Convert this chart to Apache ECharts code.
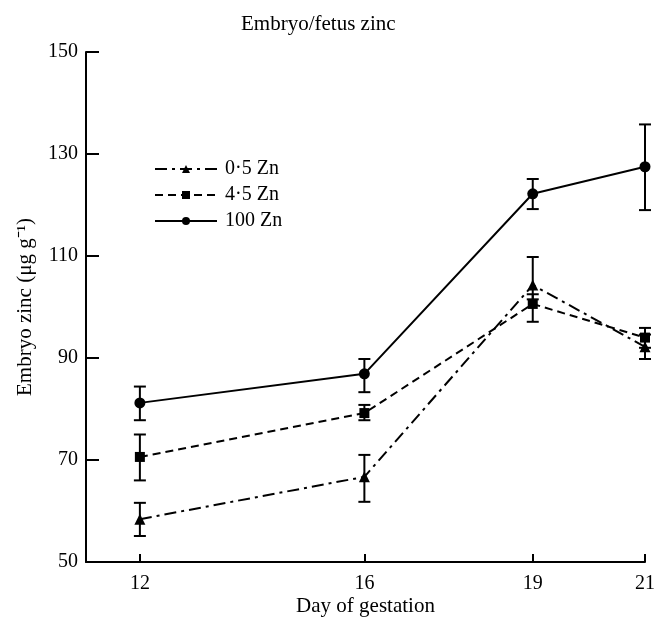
<!DOCTYPE html>
<html>
<head>
<meta charset="utf-8">
<script src="https://cdn.jsdelivr.net/npm/echarts@6/dist/echarts.min.js"></script>
<style>
  html, body { margin: 0; padding: 0; background: #fff; }
  #chart { width: 664px; height: 619px; }
</style>
</head>
<body>
<div id="chart"></div>
<script>
// Day of gestation
var days = [12, 16, 19, 21];

// 0.5 Zn diet
var zn05Mean = [58.4, 66.7, 104.3, 92.2];
var zn05Low = [55.1, 61.8, 101.5, 89.8];
var zn05High = [61.6, 71.0, 109.8, 94.6];

// 4.5 Zn diet
var zn45Mean = [70.6, 79.2, 100.6, 94.0];
var zn45Low = [66.0, 77.8, 97.1, 92.0];
var zn45High = [75.0, 80.8, 102.5, 95.9];

// 100 Zn diet
var zn100Mean = [81.2, 86.9, 122.2, 127.5];
var zn100Low = [77.8, 83.3, 119.2, 119.0];
var zn100High = [84.4, 89.8, 125.1, 135.8];

var seriesNames = ['0·5 Zn', '4·5 Zn', '100 Zn'];
var yTicks = [50, 70, 90, 110, 130, 150];

var serif = 'Liberation Serif';

function pairs(means) {
    return days.map(function (d, i) { return [d, means[i]]; });
}

function errData(low, high) {
    return days.map(function (d, i) { return [d, low[i], high[i]]; });
}

function renderErr(params, api) {
    var x = api.value(0);
    var top = api.coord([x, api.value(2)]);
    var bot = api.coord([x, api.value(1)]);
    var cap = 6;
    var style = { stroke: '#000', lineWidth: 2 };
    return {
        type: 'group',
        children: [
            { type: 'line', shape: { x1: top[0], y1: top[1], x2: bot[0], y2: bot[1] }, style: style },
            { type: 'line', shape: { x1: top[0] - cap, y1: top[1], x2: top[0] + cap, y2: top[1] }, style: style },
            { type: 'line', shape: { x1: bot[0] - cap, y1: bot[1], x2: bot[0] + cap, y2: bot[1] }, style: style }
        ]
    };
}

function lineSeries(name, means, symbol, size, dash) {
    return {
        name: name,
        type: 'line',
        data: pairs(means),
        symbol: symbol,
        symbolSize: size,
        showAllSymbol: true,
        itemStyle: { color: '#000' },
        lineStyle: { color: '#000', width: 2, type: dash },
        z: 3
    };
}

function errSeries(low, high) {
    return {
        type: 'custom',
        renderItem: renderErr,
        data: errData(low, high),
        encode: { x: 0, y: [1, 2] },
        silent: true,
        z: 2
    };
}

var chart = echarts.init(document.getElementById('chart'));

var option = {
    animation: false,
    backgroundColor: '#fff',
    title: {
        text: 'Embryo/fetus zinc',
        left: 236,
        top: 9,
        textStyle: { fontFamily: serif, fontSize: 21, fontWeight: 'normal', color: '#000' }
    },
    legend: {
        data: seriesNames,
        orient: 'vertical',
        left: 149,
        top: 154,
        itemWidth: 62,
        itemHeight: 10,
        itemGap: 6,
        textStyle: { fontFamily: serif, fontSize: 20, color: '#000', padding: [0, 0, 0, 3] }
    },
    grid: { left: 86, right: 19, top: 52, bottom: 57, outerBoundsMode: 'none' },
    xAxis: {
        type: 'value',
        min: 11.04,
        max: 21,
        name: 'Day of gestation',
        nameLocation: 'middle',
        nameGap: 34,
        nameMoveOverlap: false,
        nameTextStyle: { fontFamily: serif, fontSize: 21, color: '#000' },
        axisLine: { show: true, lineStyle: { color: '#000', width: 2 } },
        axisTick: { show: true, inside: true, length: 8, lineStyle: { color: '#000', width: 2 }, customValues: days },
        axisLabel: { fontFamily: serif, fontSize: 20, color: '#000', margin: 12, customValues: days },
        splitLine: { show: false }
    },
    yAxis: {
        type: 'value',
        min: 50,
        max: 150,
        interval: 20,
        name: 'Embryo zinc (μg g⁻¹)',
        nameLocation: 'middle',
        nameGap: 50,
        nameMoveOverlap: false,
        nameTextStyle: { fontFamily: serif, fontSize: 21, color: '#000' },
        axisLine: { show: true, lineStyle: { color: '#000', width: 2 } },
        axisTick: { show: true, inside: true, length: 13, lineStyle: { color: '#000', width: 2 } },
        axisLabel: { fontFamily: serif, fontSize: 20, color: '#000', margin: 8, customValues: yTicks },
        splitLine: { show: false }
    },
    series: [
        errSeries(zn05Low, zn05High),
        errSeries(zn45Low, zn45High),
        errSeries(zn100Low, zn100High),
        lineSeries(seriesNames[0], zn05Mean, 'triangle', 11, [12, 5, 3, 5]),
        lineSeries(seriesNames[1], zn45Mean, 'rect', 10, [8, 5]),
        lineSeries(seriesNames[2], zn100Mean, 'circle', 11, 'solid')
    ]
};

chart.setOption(option);
</script>
</body>
</html>
